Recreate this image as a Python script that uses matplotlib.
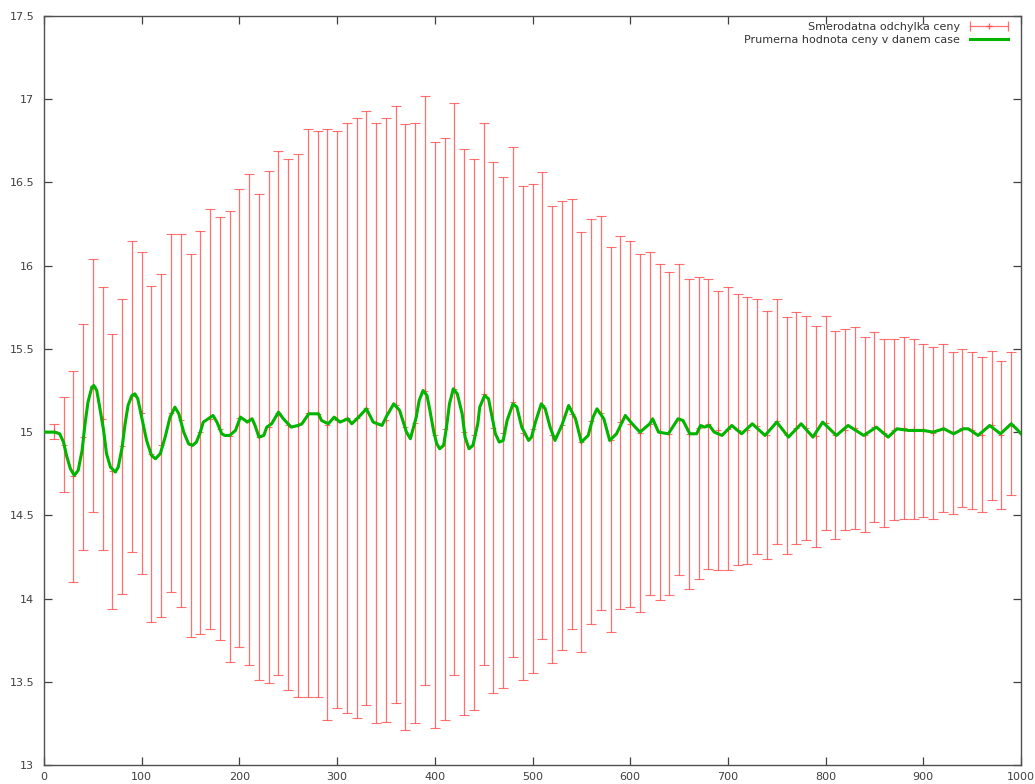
import numpy as np
import matplotlib.pyplot as plt
from matplotlib.ticker import MultipleLocator, FuncFormatter
from matplotlib.legend_handler import HandlerErrorbar

# error bars: time, upper and lower edge (mean +- sd)
bar_x = list(range(10, 1000, 10))
bar_top = [15.05, 15.21, 15.37, 15.65, 16.04, 15.87, 15.59, 15.80, 16.15, 16.08,
           15.88, 15.95, 16.19, 16.19, 16.07, 16.21, 16.34, 16.29, 16.33, 16.46,
           16.55, 16.43, 16.57, 16.69, 16.64, 16.67, 16.82, 16.81, 16.82, 16.81,
           16.86, 16.89, 16.93, 16.86, 16.89, 16.96, 16.85, 16.86, 17.02, 16.74,
           16.77, 16.98, 16.70, 16.64, 16.86, 16.62, 16.53, 16.71, 16.48, 16.49,
           16.56, 16.36, 16.39, 16.40, 16.20, 16.28, 16.30, 16.11, 16.18, 16.15,
           16.07, 16.08, 16.01, 15.96, 16.01, 15.92, 15.93, 15.92, 15.85, 15.87,
           15.83, 15.81, 15.80, 15.73, 15.80, 15.69, 15.72, 15.70, 15.64, 15.70,
           15.61, 15.62, 15.63, 15.57, 15.60, 15.56, 15.56, 15.57, 15.56, 15.53,
           15.51, 15.53, 15.48, 15.50, 15.48, 15.45, 15.49, 15.43, 15.48]
bar_bot = [14.96, 14.64, 14.10, 14.29, 14.52, 14.29, 13.94, 14.03, 14.28, 14.15,
           13.86, 13.89, 14.04, 13.95, 13.77, 13.79, 13.82, 13.75, 13.62, 13.71,
           13.60, 13.51, 13.49, 13.54, 13.45, 13.41, 13.41, 13.41, 13.27, 13.34,
           13.31, 13.28, 13.36, 13.25, 13.26, 13.37, 13.21, 13.25, 13.48, 13.22,
           13.27, 13.54, 13.30, 13.33, 13.60, 13.43, 13.46, 13.65, 13.51, 13.55,
           13.76, 13.61, 13.69, 13.82, 13.68, 13.85, 13.93, 13.80, 13.94, 13.95,
           13.92, 14.02, 13.99, 14.02, 14.14, 14.06, 14.12, 14.18, 14.17, 14.17,
           14.20, 14.21, 14.27, 14.24, 14.33, 14.27, 14.33, 14.35, 14.31, 14.41,
           14.36, 14.41, 14.42, 14.40, 14.46, 14.43, 14.47, 14.48, 14.48, 14.49,
           14.48, 14.52, 14.51, 14.55, 14.54, 14.52, 14.59, 14.54, 14.62]

# mean price curve
mean_x = [0, 11, 16, 20, 23, 27, 31, 35, 39, 42, 45, 49, 51, 54, 57, 61, 64, 68,
          73, 76, 80, 83, 86, 90, 93, 96, 100, 105, 110, 114, 119, 124, 129, 134,
          138, 143, 148, 152, 156, 160, 163, 168, 173, 177, 182, 185, 190, 196,
          201, 206, 208, 213, 216, 220, 225, 228, 233, 240, 245, 253, 260, 264,
          271, 281, 284, 291, 297, 303, 311, 315, 322, 330, 337, 346, 351, 358,
          364, 371, 375, 381, 384, 388, 392, 395, 399, 402, 405, 409, 412, 415,
          419, 423, 428, 431, 435, 439, 444, 446, 451, 455, 458, 462, 466, 470,
          474, 480, 484, 489, 496, 499, 503, 509, 513, 518, 523, 530, 537, 544,
          550, 557, 562, 566, 573, 579, 586, 595, 602, 610, 620, 623, 629, 639,
          649, 654, 661, 668, 672, 676, 681, 686, 694, 704, 714, 725, 738, 750,
          762, 775, 787, 797, 811, 823, 839, 852, 864, 873, 885, 900, 910, 921,
          931, 941, 946, 956, 968, 979, 990, 997, 1000]
mean_y = [15.00, 15.00, 14.99, 14.94, 14.86, 14.78, 14.74, 14.77, 14.89, 15.05,
          15.18, 15.27, 15.28, 15.25, 15.15, 15.01, 14.87, 14.79, 14.76, 14.79,
          14.91, 15.05, 15.16, 15.22, 15.23, 15.20, 15.09, 14.95, 14.86, 14.84,
          14.87, 14.97, 15.09, 15.15, 15.11, 15.00, 14.93, 14.92, 14.94, 15.00,
          15.06, 15.08, 15.10, 15.06, 14.99, 14.98, 14.98, 15.01, 15.09, 15.07,
          15.06, 15.08, 15.04, 14.97, 14.98, 15.03, 15.05, 15.12, 15.08, 15.03,
          15.04, 15.05, 15.11, 15.11, 15.07, 15.05, 15.09, 15.06, 15.08, 15.05,
          15.09, 15.14, 15.06, 15.04, 15.10, 15.17, 15.13, 15.00, 14.96, 15.09,
          15.19, 15.25, 15.22, 15.13, 15.00, 14.93, 14.90, 14.92, 15.03, 15.17,
          15.26, 15.23, 15.11, 14.97, 14.90, 14.92, 15.05, 15.15, 15.22, 15.20,
          15.11, 14.99, 14.94, 14.95, 15.07, 15.17, 15.15, 15.03, 14.95, 14.97,
          15.06, 15.17, 15.14, 15.03, 14.95, 15.04, 15.16, 15.08, 14.94, 14.98,
          15.09, 15.14, 15.08, 14.95, 14.99, 15.10, 15.05, 15.00, 15.05, 15.08,
          15.00, 14.99, 15.08, 15.07, 14.99, 14.99, 15.04, 15.03, 15.04, 15.00,
          14.98, 15.04, 14.99, 15.05, 14.98, 15.06, 14.97, 15.05, 14.97, 15.06,
          14.98, 15.04, 14.98, 15.03, 14.97, 15.02, 15.01, 15.01, 15.00, 15.02,
          14.99, 15.02, 15.02, 14.98, 15.04, 14.99, 15.05, 15.01, 14.99]

label_sd = 'Smerodatna odchylka ceny'
label_mean = 'Prumerna hodnota ceny v danem case'

top = np.array(bar_top)
bot = np.array(bar_bot)
center = (top + bot) / 2
half = (top - bot) / 2

plt.rcParams['font.family'] = 'DejaVu Sans'
fig = plt.figure(figsize=(10.35, 7.84), dpi=100)
ax = fig.add_axes([44 / 1035, 1 - 765 / 784, (1021 - 44) / 1035, (765 - 16) / 784])

red = '#ff4040'
ax.errorbar(bar_x, center, yerr=half, fmt='+', color=red, ecolor=red,
            elinewidth=0.9, capsize=3.5, capthick=0.9, markersize=4,
            markeredgewidth=0.8, alpha=0.75, zorder=2)
mean_line, = ax.plot(mean_x, mean_y, color='#00b400', lw=2.2, zorder=3)

# proxy for a horizontal errorbar sample in the legend (gnuplot style)
proxy = ax.errorbar([np.nan], [np.nan], xerr=[1], fmt='+', color=red,
                    ecolor=red, elinewidth=0.9, capsize=3.5, capthick=0.9,
                    markersize=4, alpha=0.75)
ax.legend([proxy, mean_line], [label_sd, label_mean], loc='upper right',
          bbox_to_anchor=(1008 / 1035, 1 - 22 / 784), bbox_transform=fig.transFigure,
          frameon=False, fontsize=8, handlelength=3.4, handletextpad=0.9,
          labelspacing=0.25, borderpad=0, borderaxespad=0, markerfirst=False,
          labelcolor='#333333',
          handler_map={type(proxy): HandlerErrorbar(xerr_size=1.7)})

ax.set_xlim(0, 1000)
ax.set_ylim(13, 17.5)
ax.xaxis.set_major_locator(MultipleLocator(100))
ax.yaxis.set_major_locator(MultipleLocator(0.5))
ax.yaxis.set_major_formatter(FuncFormatter(lambda v, p: '%g' % v))
ax.tick_params(direction='in', length=6, width=0.9, color='#404040',
               labelcolor='#404040', labelsize=8, top=True, right=True)
ax.tick_params(axis='y', pad=7)
ax.tick_params(axis='x', pad=5)
for s in ax.spines.values():
    s.set_color('#505050')
    s.set_linewidth(1.0)

fig.savefig('out.png', dpi=100)
